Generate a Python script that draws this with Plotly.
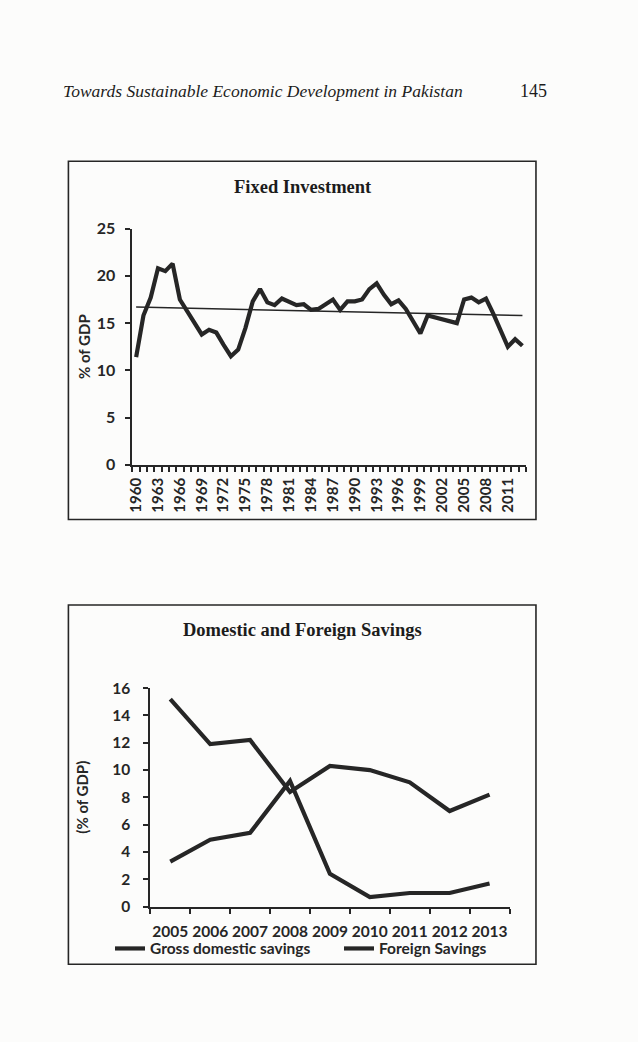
import plotly.graph_objects as go

W, H = 638, 1042

# ---------------- data ----------------
fi_years = list(range(1960, 2014))
fi_values = [11.4, 15.8, 17.7, 20.8, 20.5, 21.3, 17.5, 16.3, 15.0, 13.8,
             14.3, 14.0, 12.7, 11.5, 12.2, 14.5, 17.3, 18.6, 17.2, 16.9,
             17.6, 17.2, 16.9, 17.0, 16.4, 16.5, 17.0, 17.5, 16.4, 17.3,
             17.3, 17.5, 18.6, 19.2, 18.0, 17.0, 17.4, 16.5, 15.2, 13.9,
             15.8, 15.6, 15.3, 15.1, 15.0, 17.5, 17.7, 17.2, 17.6, 16.0,
             14.2, 12.5, 13.3, 12.6]
fi_tick_years = list(range(1960, 2014, 3))
trend_years = [1960, 2013]
trend_values = [16.7, 15.8]

sv_years = [2005, 2006, 2007, 2008, 2009, 2010, 2011, 2012, 2013]
gross_domestic = [15.2, 11.9, 12.2, 8.4, 10.3, 10.0, 9.1, 7.0, 8.2]
foreign = [3.3, 4.9, 5.4, 9.2, 2.4, 0.7, 1.0, 1.0, 1.7]

# ---------------- helpers ----------------
def fx(px):
    return px / W

def fy(py):
    return 1 - py / H

INK = "#262626"
BG = "#fcfcfb"
SANS = "Lato, 'Noto Sans', sans-serif"
SERIF = "'Liberation Serif', 'DejaVu Serif', serif"

fig = go.Figure()

fig.add_trace(go.Scatter(x=fi_years, y=fi_values, mode="lines",
                         line=dict(color=INK, width=4.2), xaxis="x", yaxis="y",
                         showlegend=False))
fig.add_trace(go.Scatter(x=trend_years, y=trend_values, mode="lines",
                         line=dict(color=INK, width=1.5), xaxis="x", yaxis="y",
                         showlegend=False))

fig.add_trace(go.Scatter(x=sv_years, y=gross_domestic, mode="lines",
                         name="Gross domestic savings",
                         line=dict(color=INK, width=4.2), xaxis="x2", yaxis="y2"))
fig.add_trace(go.Scatter(x=sv_years, y=foreign, mode="lines",
                         name="Foreign Savings",
                         line=dict(color=INK, width=4.2), xaxis="x2", yaxis="y2"))

axis_common = dict(showgrid=False, zeroline=False, showline=True,
                   linecolor=INK, linewidth=2, ticks="outside",
                   tickwidth=1.5)

fig.update_layout(
    width=W, height=H,
    margin=dict(l=0, r=0, t=0, b=0),
    paper_bgcolor=BG, plot_bgcolor=BG,
    xaxis=dict(**axis_common, domain=[fx(127.7), fx(525)],
               range=[1959.5, 2013.5], tickvals=fi_tick_years,
               ticktext=[str(y) for y in fi_tick_years],
               tickangle=-90, ticklen=5, tickcolor="rgba(0,0,0,0)",
               minor=dict(tick0=1959.5, dtick=1, ticklen=5, tickcolor=INK,
                          tickwidth=1.5, ticks="outside", showgrid=False),
               tickfont=dict(family=SANS, size=15, color=INK, weight="bold"),
               anchor="y"),
    yaxis=dict(**axis_common, domain=[fy(463.3), fy(222.7)],
               range=[0, 25], dtick=5, ticklen=5, tickcolor=INK,
               ticklabelstandoff=7,
               tickfont=dict(family=SANS, size=16, color=INK, weight="bold"),
               anchor="x"),
    xaxis2=dict(**axis_common, domain=[fx(145.7), fx(508.3)],
                range=[2004.5, 2013.5], tickvals=sv_years,
                ticktext=[str(y) for y in sv_years],
                ticklen=5, tickcolor="rgba(0,0,0,0)",
                ticklabelstandoff=5,
                minor=dict(tick0=2004.5, dtick=1, ticklen=5, tickcolor=INK,
                           tickwidth=1.5, ticks="outside", showgrid=False),
                tickfont=dict(family=SANS, size=15.5, color=INK, weight="bold"),
                anchor="y2"),
    yaxis2=dict(**axis_common, domain=[fy(913.3), fy(690.7)],
                range=[0, 16], dtick=2, ticklen=5, tickcolor=INK,
                ticklabelstandoff=10,
                tickfont=dict(family=SANS, size=15.5, color=INK, weight="bold"),
                anchor="x2"),
    legend=dict(orientation="h", x=fx(105), y=fy(939), xanchor="left",
                yanchor="top", bgcolor="rgba(0,0,0,0)",
                font=dict(family=SANS, size=15.5, color=INK, weight="bold"),
                itemwidth=30, tracegroupgap=0, entrywidth=184,
                entrywidthmode="pixels"),
)

# frames
fig.add_shape(type="rect", xref="paper", yref="paper",
              x0=fx(63), x1=fx(535), y0=fy(519), y1=fy(154),
              line=dict(color=INK, width=1.6))
fig.add_shape(type="rect", xref="paper", yref="paper",
              x0=fx(63), x1=fx(535), y0=fy(972), y1=fy(606),
              line=dict(color=INK, width=1.6))

ann = []
ann.append(dict(text="<i>Towards Sustainable Economic Development in Pakistan</i>",
                x=fx(56), y=fy(82), xanchor="left", yanchor="middle",
                font=dict(family=SERIF, size=17.5, color="#1c1c1c")))
ann.append(dict(text="145", x=fx(548), y=fy(82), xanchor="right", yanchor="middle",
                font=dict(family=SERIF, size=18, color="#1c1c1c")))
ann.append(dict(text="<b>Fixed Investment</b>", x=fx(300), y=fy(180),
                xanchor="center", yanchor="middle",
                font=dict(family=SERIF, size=18.5, color="#1c1c1c")))
ann.append(dict(text="<b>Domestic and Foreign Savings</b>", x=fx(299), y=fy(632),
                xanchor="center", yanchor="middle",
                font=dict(family=SERIF, size=18.5, color="#1c1c1c")))
ann.append(dict(text="% of GDP", x=fx(78), y=fy(343), textangle=-90,
                xanchor="center", yanchor="middle",
                font=dict(family=SANS, size=15, color=INK, weight="bold")))
ann.append(dict(text="(% of GDP)", x=fx(77), y=fy(802), textangle=-90,
                xanchor="center", yanchor="middle",
                font=dict(family=SANS, size=15, color=INK, weight="bold")))
for a in ann:
    a.update(xref="paper", yref="paper", showarrow=False)
fig.update_layout(annotations=ann)

fig.write_html(
    "out.html",
    config={"displayModeBar": False},
    post_script="document.body.style.margin='0';document.body.style.padding='0';"
                "document.documentElement.style.overflow='hidden';",
)
